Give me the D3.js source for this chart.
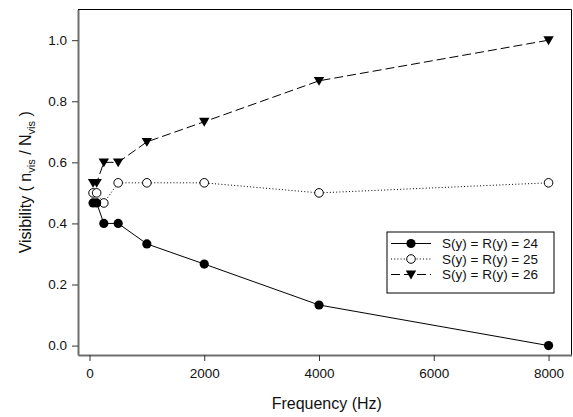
<!DOCTYPE html>
<html><head><meta charset="utf-8">
<script src="https://cdn.jsdelivr.net/npm/d3@7"></script>
<style>body{margin:0;background:#fff}svg{display:block}text{font-family:Arial,"Liberation Sans",sans-serif}</style>
</head><body>
<svg id="c" width="573" height="417"></svg>
<script>
const frequencies = [62.5, 125, 250, 500, 1000, 2000, 4000, 8000];
const seriesNames = ["S(y) = R(y) = 24", "S(y) = R(y) = 25", "S(y) = R(y) = 26"];
const values24 = [0.467, 0.467, 0.4, 0.4, 0.333, 0.267, 0.133, 0.0];
const values25 = [0.5, 0.5, 0.467, 0.533, 0.533, 0.533, 0.5, 0.533];
const values26 = [0.533, 0.533, 0.6, 0.6, 0.667, 0.733, 0.867, 1.0];
const xTicks = [0, 2000, 4000, 6000, 8000];
const yTicks = [0.0, 0.2, 0.4, 0.6, 0.8, 1.0];

const svg = d3.select("#c");
const L = 78, R = 571.5, T = 9.5, B = 355;
const x = d3.scaleLinear().domain([-200, 8400]).range([L, R]);
const y = d3.scaleLinear().domain([-0.0308, 1.1005]).range([B, T]);

// frame top/right
svg.append("path").attr("d", `M${L},${T}H${R}V${B}`).attr("fill","none").attr("stroke","#000").attr("stroke-width",1);

// axes
const xAxis = svg.append("g").attr("transform", `translate(0,${B})`)
  .call(d3.axisBottom(x).tickValues(xTicks).tickFormat(d3.format("d")).tickSize(6).tickSizeOuter(0).tickPadding(7));
const yAxis = svg.append("g").attr("transform", `translate(${L},0)`)
  .call(d3.axisLeft(y).tickValues(yTicks).tickFormat(d3.format(".1f")).tickSize(6).tickSizeOuter(0).tickPadding(5));
[xAxis, yAxis].forEach(g => {
  g.select(".domain").attr("stroke", "#6e6e6e").attr("stroke-width", 2);
  g.selectAll(".tick line").attr("stroke", "#333").attr("stroke-width", 1);
  g.selectAll(".tick text").attr("font-size", 13.5).attr("fill", "#111").attr("font-family","Arial, 'Liberation Sans', sans-serif");
});

// axis titles
svg.append("text").attr("x", (L+R)/2 + 2).attr("y", 409).attr("text-anchor","middle").attr("font-size", 16).attr("fill","#111").text("Frequency (Hz)");
const yl = svg.append("text").attr("transform", `translate(31,${(T+B)/2}) rotate(-90)`).attr("text-anchor","middle").attr("font-size", 16).attr("fill","#111");
yl.append("tspan").text("Visibility ( n");
yl.append("tspan").attr("font-size", 11).attr("dy", 4).text("vis");
yl.append("tspan").attr("dy", -4).text(" / N");
yl.append("tspan").attr("font-size", 11).attr("dy", 4).text("vis");
yl.append("tspan").attr("dy", -4).text(" )");

const series = [
  {name: seriesNames[0], vals: values24, dash: null, marker: "circleFilled"},
  {name: seriesNames[1], vals: values25, dash: "1,2.2", marker: "circleOpen"},
  {name: seriesNames[2], vals: values26, dash: "9,4", marker: "triangle"}
];
const line = d3.line().x(d => x(d[0])).y(d => y(d[1]));

function drawMarker(g, type, cx, cy) {
  if (type === "circleFilled") {
    g.append("circle").attr("cx", cx).attr("cy", cy).attr("r", 4.6).attr("fill", "#000");
  } else if (type === "circleOpen") {
    g.append("circle").attr("cx", cx).attr("cy", cy).attr("r", 4.3).attr("fill", "#fff").attr("stroke", "#000").attr("stroke-width", 1);
  } else {
    const s = 5.2;
    g.append("path").attr("d", `M${cx-s},${cy-s*0.75}L${cx+s},${cy-s*0.75}L${cx},${cy+s*0.95}Z`).attr("fill", "#000");
  }
}

series.forEach(s => {
  const pts = frequencies.map((f, i) => [f, s.vals[i]]);
  svg.append("path").attr("d", line(pts)).attr("fill","none").attr("stroke","#000").attr("stroke-width",1)
    .attr("stroke-dasharray", s.dash);
});
[...series].reverse().forEach(s => {
  const g = svg.append("g");
  frequencies.forEach((f, i) => drawMarker(g, s.marker, x(f), y(s.vals[i])));
});

// legend
const lg = svg.append("g");
lg.append("rect").attr("x", 387).attr("y", 232).attr("width", 167).attr("height", 61).attr("fill","#fff").attr("stroke","#000").attr("stroke-width",1);
const rowsY = [243.5, 259, 274.5];
series.forEach((s, i) => {
  const yy = rowsY[i];
  lg.append("line").attr("x1", 391).attr("x2", 431).attr("y1", yy).attr("y2", yy).attr("stroke","#000").attr("stroke-width",1).attr("stroke-dasharray", s.dash);
  drawMarker(lg, s.marker, 411, yy);
  lg.append("text").attr("x", 442).attr("y", yy + 4.8).attr("font-size", 13.5).attr("fill","#111").text(s.name);
});
</script>
</body></html>
